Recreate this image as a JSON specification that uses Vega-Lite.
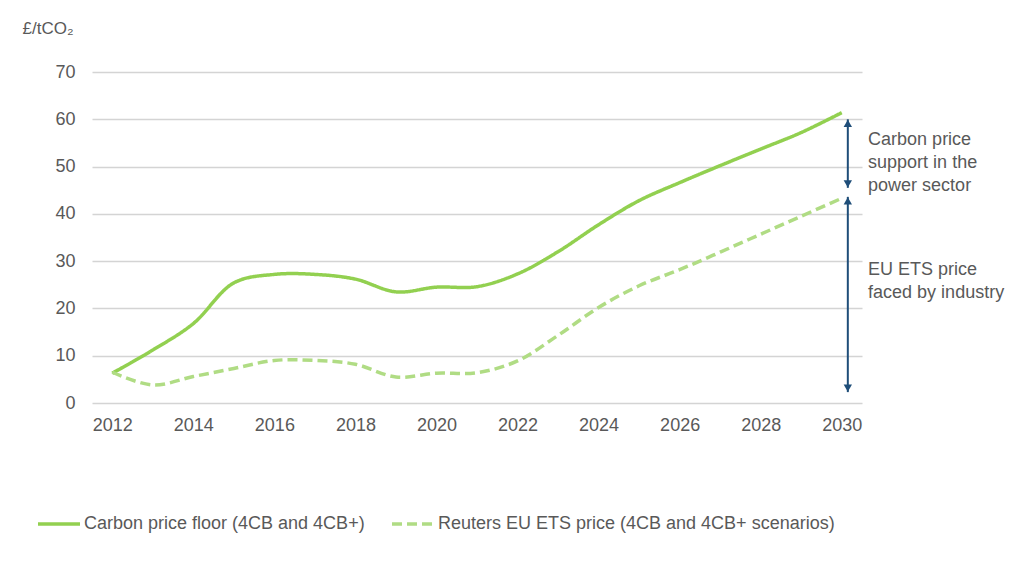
{
  "$schema": "https://vega.github.io/schema/vega-lite/v6.json",
  "width": 770,
  "height": 331,
  "autosize": {"type": "none"},
  "padding": {"left": 92, "top": 72, "right": 163, "bottom": 178},
  "background": "white",
  "config": {
    "font": "Liberation Sans",
    "view": {"stroke": null},
    "axis": {"labelColor": "#595959", "labelFontSize": 18, "titleColor": "#595959", "domain": false, "ticks": false, "tickSize": 0}
  },
  "datasets": {
    "series": [
      {"x": 2012, "y": 6.3, "series": "Carbon price floor (4CB and 4CB+)"},
      {"x": 2013, "y": 11.2, "series": "Carbon price floor (4CB and 4CB+)"},
      {"x": 2014, "y": 16.8, "series": "Carbon price floor (4CB and 4CB+)"},
      {"x": 2015, "y": 25.4, "series": "Carbon price floor (4CB and 4CB+)"},
      {"x": 2016, "y": 27.2, "series": "Carbon price floor (4CB and 4CB+)"},
      {"x": 2017, "y": 27.2, "series": "Carbon price floor (4CB and 4CB+)"},
      {"x": 2018, "y": 26.2, "series": "Carbon price floor (4CB and 4CB+)"},
      {"x": 2019, "y": 23.5, "series": "Carbon price floor (4CB and 4CB+)"},
      {"x": 2020, "y": 24.5, "series": "Carbon price floor (4CB and 4CB+)"},
      {"x": 2021, "y": 24.6, "series": "Carbon price floor (4CB and 4CB+)"},
      {"x": 2022, "y": 27.3, "series": "Carbon price floor (4CB and 4CB+)"},
      {"x": 2023, "y": 32.0, "series": "Carbon price floor (4CB and 4CB+)"},
      {"x": 2024, "y": 37.7, "series": "Carbon price floor (4CB and 4CB+)"},
      {"x": 2025, "y": 42.8, "series": "Carbon price floor (4CB and 4CB+)"},
      {"x": 2026, "y": 46.6, "series": "Carbon price floor (4CB and 4CB+)"},
      {"x": 2027, "y": 50.2, "series": "Carbon price floor (4CB and 4CB+)"},
      {"x": 2028, "y": 53.7, "series": "Carbon price floor (4CB and 4CB+)"},
      {"x": 2029, "y": 57.2, "series": "Carbon price floor (4CB and 4CB+)"},
      {"x": 2030, "y": 61.4, "series": "Carbon price floor (4CB and 4CB+)"},
      {"x": 2012, "y": 6.5, "series": "Reuters EU ETS price (4CB and 4CB+ scenarios)"},
      {"x": 2013, "y": 3.8, "series": "Reuters EU ETS price (4CB and 4CB+ scenarios)"},
      {"x": 2014, "y": 5.6, "series": "Reuters EU ETS price (4CB and 4CB+ scenarios)"},
      {"x": 2015, "y": 7.3, "series": "Reuters EU ETS price (4CB and 4CB+ scenarios)"},
      {"x": 2016, "y": 9.0, "series": "Reuters EU ETS price (4CB and 4CB+ scenarios)"},
      {"x": 2017, "y": 9.0, "series": "Reuters EU ETS price (4CB and 4CB+ scenarios)"},
      {"x": 2018, "y": 8.2, "series": "Reuters EU ETS price (4CB and 4CB+ scenarios)"},
      {"x": 2019, "y": 5.5, "series": "Reuters EU ETS price (4CB and 4CB+ scenarios)"},
      {"x": 2020, "y": 6.3, "series": "Reuters EU ETS price (4CB and 4CB+ scenarios)"},
      {"x": 2021, "y": 6.4, "series": "Reuters EU ETS price (4CB and 4CB+ scenarios)"},
      {"x": 2022, "y": 8.9, "series": "Reuters EU ETS price (4CB and 4CB+ scenarios)"},
      {"x": 2023, "y": 14.3, "series": "Reuters EU ETS price (4CB and 4CB+ scenarios)"},
      {"x": 2024, "y": 20.2, "series": "Reuters EU ETS price (4CB and 4CB+ scenarios)"},
      {"x": 2025, "y": 24.8, "series": "Reuters EU ETS price (4CB and 4CB+ scenarios)"},
      {"x": 2026, "y": 28.2, "series": "Reuters EU ETS price (4CB and 4CB+ scenarios)"},
      {"x": 2027, "y": 31.9, "series": "Reuters EU ETS price (4CB and 4CB+ scenarios)"},
      {"x": 2028, "y": 35.7, "series": "Reuters EU ETS price (4CB and 4CB+ scenarios)"},
      {"x": 2029, "y": 39.5, "series": "Reuters EU ETS price (4CB and 4CB+ scenarios)"},
      {"x": 2030, "y": 43.3, "series": "Reuters EU ETS price (4CB and 4CB+ scenarios)"}
    ],
    "arrows": [
      {"x": 2030.15, "y": 60.0, "y2": 45.5},
      {"x": 2030.15, "y": 43.6, "y2": 2.3}
    ],
    "upheads": [
      {"x": 2030.15, "y": 60.0},
      {"x": 2030.15, "y": 43.6}
    ],
    "downheads": [
      {"x": 2030.15, "y": 45.5},
      {"x": 2030.15, "y": 2.3}
    ],
    "notes": [
      {"x": 2030.65, "y": 55.6, "text": "Carbon price"},
      {"x": 2030.65, "y": 50.7, "text": "support in the"},
      {"x": 2030.65, "y": 45.9, "text": "power sector"},
      {"x": 2030.65, "y": 28.1, "text": "EU ETS price"},
      {"x": 2030.65, "y": 23.3, "text": "faced by industry"}
    ]
  },
  "layer": [
    {
      "data": {"name": "series"},
      "mark": {"type": "line", "interpolate": "catmull-rom"},
      "encoding": {
        "x": {
          "field": "x", "type": "quantitative",
          "scale": {"domain": [2011.5, 2030.5], "nice": false, "zero": false},
          "axis": {"title": null, "values": [2012, 2014, 2016, 2018, 2020, 2022, 2024, 2026, 2028, 2030], "format": "d", "grid": false, "labelPadding": 13}
        },
        "y": {
          "field": "y", "type": "quantitative",
          "scale": {"domain": [0, 70], "nice": false},
          "axis": {
            "title": "£/tCO₂", "titleAngle": 0, "titleAlign": "left", "titleBaseline": "middle",
            "titleX": -70, "titleY": -44, "titleFontWeight": "normal", "titleFontSize": 17,
            "values": [0, 10, 20, 30, 40, 50, 60, 70], "grid": true, "gridColor": "#d4d4d4", "gridWidth": 1.5,
            "labelPadding": 17
          }
        },
        "color": {
          "field": "series", "type": "nominal",
          "scale": {"domain": ["Carbon price floor (4CB and 4CB+)", "Reuters EU ETS price (4CB and 4CB+ scenarios)"], "range": ["#92d050", "#b0dc84"]},
          "legend": {
            "title": null, "orient": "none", "legendX": -56, "legendY": 429, "direction": "horizontal",
            "columns": 2, "columnPadding": 20, "symbolType": "stroke", "symbolSize": 1764, "symbolStrokeWidth": 3.5,
            "labelFontSize": 18, "labelColor": "#595959", "labelOffset": 2, "padding": 0, "labelLimit": 600
          }
        },
        "strokeDash": {
          "field": "series", "type": "nominal",
          "scale": {"domain": ["Carbon price floor (4CB and 4CB+)", "Reuters EU ETS price (4CB and 4CB+ scenarios)"], "range": [[1, 0], [10, 5]]},
          "legend": {
            "title": null, "orient": "none", "legendX": -56, "legendY": 429, "direction": "horizontal",
            "columns": 2, "columnPadding": 20, "symbolType": "stroke", "symbolSize": 1764, "symbolStrokeWidth": 3.5,
            "labelFontSize": 18, "labelColor": "#595959", "labelOffset": 2, "padding": 0, "labelLimit": 600
          }
        },
        "strokeWidth": {"value": 3.5}
      }
    },
    {
      "data": {"name": "arrows"},
      "mark": {"type": "rule", "color": "#1f4e79", "strokeWidth": 2},
      "encoding": {
        "x": {"field": "x", "type": "quantitative"},
        "y": {"field": "y", "type": "quantitative"},
        "y2": {"field": "y2"}
      }
    },
    {
      "data": {"name": "upheads"},
      "mark": {"type": "point", "shape": "triangle-up", "filled": true, "color": "#1f4e79", "size": 70, "opacity": 1, "yOffset": 4},
      "encoding": {
        "x": {"field": "x", "type": "quantitative"},
        "y": {"field": "y", "type": "quantitative"}
      }
    },
    {
      "data": {"name": "downheads"},
      "mark": {"type": "point", "shape": "triangle-down", "filled": true, "color": "#1f4e79", "size": 70, "opacity": 1, "yOffset": -4},
      "encoding": {
        "x": {"field": "x", "type": "quantitative"},
        "y": {"field": "y", "type": "quantitative"}
      }
    },
    {
      "data": {"name": "notes"},
      "mark": {"type": "text", "align": "left", "baseline": "middle", "fontSize": 18, "color": "#595959"},
      "encoding": {
        "x": {"field": "x", "type": "quantitative"},
        "y": {"field": "y", "type": "quantitative"},
        "text": {"field": "text"}
      }
    }
  ]
}
